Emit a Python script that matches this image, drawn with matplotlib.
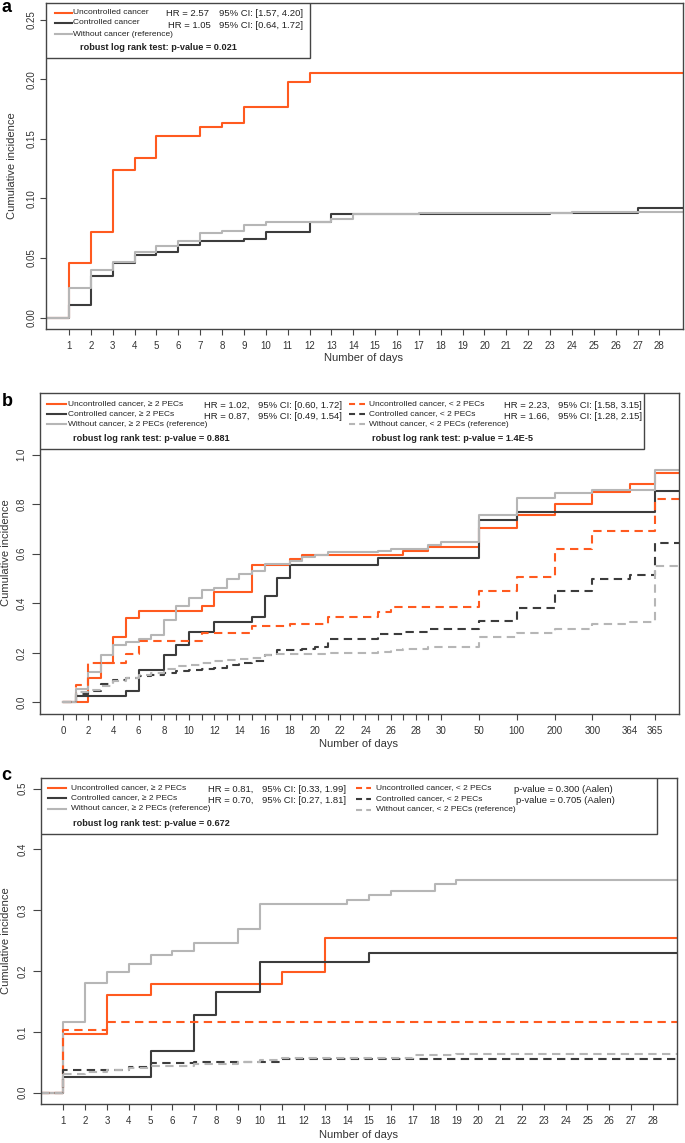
import numpy as np
import matplotlib
matplotlib.use('Agg')
import matplotlib.pyplot as plt
from matplotlib import font_manager
from matplotlib.lines import Line2D
from matplotlib.patches import Rectangle

# ---------------- data ----------------
# panel a : 28 days
a_days = list(range(1, 29))
a_unc_t = [0, 1, 2, 3, 4, 5, 7, 8, 9, 11, 12, 30]
a_unc_y = [0, 0.046, 0.072, 0.124, 0.134, 0.152, 0.160, 0.163, 0.177, 0.198, 0.205, 0.205]
a_con_t = [0, 1, 2, 3, 4, 5, 6, 7, 9, 10, 12, 13, 16, 23, 27, 30]
a_con_y = [0, 0.011, 0.035, 0.046, 0.053, 0.055, 0.061, 0.064, 0.066, 0.072, 0.080, 0.087,
           0.087, 0.088, 0.092, 0.092]
a_wo_t = [0, 1, 2, 3, 4, 5, 6, 7, 8, 9, 10, 13, 14, 17, 24, 30]
a_wo_y = [0, 0.025, 0.040, 0.047, 0.055, 0.060, 0.064, 0.071, 0.073, 0.078, 0.080, 0.083,
          0.087, 0.088, 0.089, 0.089]

# panel b : 1 year, broken day axis
b_tick_days = list(range(0, 31)) + [50, 100, 200, 300, 364, 365]
b_axis_days = [0, 30, 50, 100, 200, 300, 364, 365, 366]
b_axis_pos = [0, 30, 33, 36, 39, 42, 45, 47, 49]

b_unc2_t = [0, 2, 3, 4, 5, 6, 11, 12, 15, 18, 19, 27, 29, 50, 100, 200, 300, 364, 365, 366]
b_unc2_y = [0, 0.097, 0.157, 0.265, 0.339, 0.370, 0.390, 0.445, 0.553, 0.578, 0.595, 0.610,
            0.628, 0.702, 0.756, 0.800, 0.850, 0.880, 0.925, 0.925]
b_con2_t = [0, 1, 5, 6, 8, 9, 10, 12, 15, 16, 17, 18, 25, 50, 100, 365, 366]
b_con2_y = [0, 0.025, 0.047, 0.130, 0.190, 0.232, 0.285, 0.325, 0.343, 0.430, 0.503, 0.553,
            0.582, 0.735, 0.768, 0.852, 0.852]
b_wo2_t = [0, 1, 2, 3, 4, 5, 6, 7, 8, 9, 10, 11, 12, 13, 14, 15, 16, 18, 19, 20, 21, 25, 26,
           29, 30, 50, 100, 200, 300, 365, 366]
b_wo2_y = [0, 0.055, 0.122, 0.190, 0.233, 0.245, 0.257, 0.271, 0.332, 0.389, 0.420, 0.453,
           0.460, 0.500, 0.517, 0.531, 0.558, 0.570, 0.585, 0.595, 0.606, 0.611, 0.620, 0.636,
           0.648, 0.756, 0.826, 0.846, 0.857, 0.937, 0.937]
b_unc1_t = [0, 1, 2, 5, 6, 11, 15, 18, 21, 25, 26, 50, 100, 200, 300, 365, 366]
b_unc1_y = [0, 0.070, 0.157, 0.196, 0.248, 0.280, 0.309, 0.316, 0.344, 0.366, 0.386, 0.450,
            0.505, 0.619, 0.693, 0.821, 0.821]
b_con1_t = [0, 1, 2, 3, 4, 5, 6, 7, 8, 9, 10, 11, 12, 13, 14, 15, 16, 17, 19, 20, 21, 25, 27,
            29, 50, 100, 200, 300, 364, 365, 366]
b_con1_y = [0, 0.033, 0.045, 0.075, 0.090, 0.100, 0.105, 0.112, 0.118, 0.125, 0.130, 0.135,
            0.140, 0.150, 0.158, 0.165, 0.190, 0.210, 0.215, 0.225, 0.254, 0.276, 0.285, 0.298,
            0.329, 0.379, 0.450, 0.498, 0.514, 0.645, 0.645]
b_wo1_t = [0, 1, 2, 3, 4, 5, 6, 7, 8, 9, 10, 11, 12, 13, 14, 15, 16, 17, 21, 25, 26, 27, 29,
           50, 100, 200, 300, 364, 365, 366]
b_wo1_y = [0, 0.040, 0.050, 0.065, 0.085, 0.100, 0.110, 0.120, 0.135, 0.145, 0.150, 0.160,
           0.165, 0.170, 0.175, 0.180, 0.190, 0.195, 0.200, 0.205, 0.210, 0.215, 0.225, 0.262,
           0.282, 0.295, 0.318, 0.325, 0.551, 0.551]

# panel c : 28 days, split by PECs
c_days = list(range(1, 29))
c_unc2_t = [0, 1, 3, 5, 11, 13, 30]
c_unc2_y = [0, 0.096, 0.161, 0.178, 0.199, 0.254, 0.254]
c_con2_t = [0, 1, 5, 7, 8, 10, 15, 30]
c_con2_y = [0, 0.025, 0.069, 0.128, 0.166, 0.215, 0.229, 0.229]
c_wo2_t = [0, 1, 2, 3, 4, 5, 6, 7, 9, 10, 14, 15, 16, 18, 19, 30]
c_wo2_y = [0, 0.117, 0.180, 0.198, 0.212, 0.226, 0.233, 0.247, 0.270, 0.310, 0.317, 0.325,
           0.332, 0.344, 0.350, 0.350]
c_unc1_t = [0, 1, 3, 30]
c_unc1_y = [0, 0.103, 0.116, 0.116]
c_con1_t = [0, 1, 4, 5, 7, 11, 30]
c_con1_y = [0, 0.038, 0.043, 0.049, 0.050, 0.055, 0.055]
c_wo1_t = [0, 1, 2, 3, 4, 5, 7, 9, 10, 11, 17, 19, 30]
c_wo1_y = [0, 0.030, 0.034, 0.038, 0.041, 0.044, 0.048, 0.050, 0.054, 0.057, 0.062, 0.064, 0.064]

# ---------------- style ----------------
ORANGE = '#ff5a1f'
DARK = '#3c3c3c'
GREY = '#b6b6b6'
FRAME = '#454545'
TXT = '#222222'
LW = 1.5
DASH = (4, 2.6)
DASH_KEY = (2.9, 2.0)

W, H = 685, 1143
plt.rcParams['font.family'] = ['Liberation Sans', 'DejaVu Sans']
names = {f.name for f in font_manager.fontManager.ttflist}
if 'Liberation Sans Narrow' in names:
    LAB = dict(family=['Liberation Sans Narrow', 'DejaVu Sans'], fontsize=7.2)
else:
    LAB = dict(family=['Liberation Sans', 'DejaVu Sans'], fontsize=6.0)

fig = plt.figure(figsize=(W / 100, H / 100), dpi=100)


def fp(x, y):
    return x / W, 1 - y / H


def add_ax(l, t, r, b):
    return fig.add_axes([l / W, 1 - b / H, (r - l) / W, (b - t) / H])


def txt(x, y, s, **kw):
    kw.setdefault('color', TXT)
    kw.setdefault('va', 'center')
    fig.text(*fp(x, y), s, **kw)


def sample(x0, x1, y, color, dashed=False):
    ln = Line2D([x0 / W, x1 / W], [1 - y / H] * 2, color=color, lw=LW,
                transform=fig.transFigure)
    if dashed:
        ln.set_dashes(DASH_KEY)
    fig.add_artist(ln)


def legend_box(ax, l, t, r, b):
    x, y = fp(l, b)
    ax.add_patch(Rectangle((x, y), (r - l) / W, (b - t) / H, transform=fig.transFigure,
                           facecolor='white', edgecolor=FRAME, lw=1.0, zorder=5))


def frame(ax, ylim, yticks, ylabels, ypad, ylen):
    for s in ax.spines.values():
        s.set_color(FRAME)
        s.set_linewidth(1.0)
    ax.set_ylim(*ylim)
    ax.set_yticks(yticks, ylabels, rotation=90, va='center')
    ax.tick_params(axis='y', direction='out', length=ylen, width=0.8, color=FRAME,
                   labelsize=7, pad=ypad, labelcolor='#333333')
    ax.tick_params(axis='x', direction='out', length=4.6, width=0.8, color=FRAME,
                   labelsize=7, pad=4.3, labelcolor='#333333')


def curve(ax, t, y, color, dashed=False):
    ln, = ax.step(t, y, where='post', color=color, lw=LW)
    if dashed:
        ln.set_dashes(DASH)


# ---------------- panel a ----------------
ax = add_ax(46, 3, 683, 329)
curve(ax, a_unc_t, a_unc_y, ORANGE)
curve(ax, a_con_t, a_con_y, DARK)
curve(ax, a_wo_t, a_wo_y, GREY)
ax.set_xlim(-0.05, 29.08)
ax.set_xticks(a_days, [str(d) for d in a_days])
frame(ax, (-0.0095, 0.264), [0, 0.05, 0.10, 0.15, 0.20, 0.25],
      ['0.00', '0.05', '0.10', '0.15', '0.20', '0.25'], 2.5, 4.3)
legend_box(ax, 46, 3, 310, 58)
for yy, col, lab in [(12.5, ORANGE, 'Uncontrolled cancer'), (22.7, DARK, 'Controlled cancer'),
                     (34, GREY, 'Without cancer (reference)')]:
    sample(54.6, 71.5, yy, col)
    txt(73, yy, lab, **LAB)
txt(165.7, 14, 'HR = 2.57', fontsize=6.8)
txt(167.7, 25, 'HR = 1.05', fontsize=6.8)
txt(219, 14, '95% CI: [1.57, 4.20]', fontsize=6.8)
txt(219, 25, '95% CI: [0.64, 1.72]', fontsize=6.8)
txt(80, 48, 'robust log rank test: p-value = 0.021', fontsize=6.6, fontweight='bold')
txt(12, 166, 'Cumulative incidence', fontsize=8, rotation=90, ha='center', color='#333333')
txt(364, 358, 'Number of days', fontsize=8, ha='center', color='#333333')
txt(1.5, 12, 'a', fontsize=13, fontweight='bold', va='baseline', color='black')

# ---------------- panel b ----------------
def bpos(days):
    return np.interp(days, b_axis_days, b_axis_pos)


ax = add_ax(40, 393, 679, 714)
curve(ax, bpos(b_unc2_t), b_unc2_y, ORANGE)
curve(ax, bpos(b_con2_t), b_con2_y, DARK)
curve(ax, bpos(b_wo2_t), b_wo2_y, GREY)
curve(ax, bpos(b_unc1_t), b_unc1_y, ORANGE, True)
curve(ax, bpos(b_con1_t), b_con1_y, DARK, True)
curve(ax, bpos(b_wo1_t), b_wo1_y, GREY, True)
ax.set_xlim(-1.83, 48.88)
ax.set_xticks(bpos(b_tick_days),
              [str(d) if (d > 30 or d % 2 == 0) else '' for d in b_tick_days])
frame(ax, (-0.047, 1.249), [0, 0.2, 0.4, 0.6, 0.8, 1.0],
      ['0.0', '0.2', '0.4', '0.6', '0.8', '1.0'], 3.9, 5.6)
legend_box(ax, 40, 393, 644, 449)
for yy, col, lab in [(404, ORANGE, 'Uncontrolled cancer, \u2265 2 PECs'),
                     (414, DARK, 'Controlled cancer, \u2265 2 PECs'),
                     (424.5, GREY, 'Without cancer, \u2265 2 PECs (reference)')]:
    sample(47, 65.5, yy, col)
    txt(68, yy, lab, **LAB)
for yy, col, lab in [(404, ORANGE, 'Uncontrolled cancer, < 2 PECs'),
                     (414, DARK, 'Controlled cancer, < 2 PECs'),
                     (424.5, GREY, 'Without cancer, < 2 PECs (reference)')]:
    sample(349, 365, yy, col, True)
    txt(369, yy, lab, **LAB)
txt(204, 405.5, 'HR = 1.02,', fontsize=6.8)
txt(204, 416, 'HR = 0.87,', fontsize=6.8)
txt(258, 405.5, '95% CI: [0.60, 1.72]', fontsize=6.8)
txt(258, 416, '95% CI: [0.49, 1.54]', fontsize=6.8)
txt(503.5, 405.5, 'HR = 2.23,', fontsize=6.8)
txt(503.5, 416, 'HR = 1.66,', fontsize=6.8)
txt(558, 405.5, '95% CI: [1.58, 3.15]', fontsize=6.8)
txt(558, 416, '95% CI: [1.28, 2.15]', fontsize=6.8)
txt(73, 438.5, 'robust log rank test: p-value = 0.881', fontsize=6.6, fontweight='bold')
txt(372.5, 438.5, 'robust log rank test: p-value = 1.4E-5', fontsize=6.6, fontweight='bold')
txt(6.5, 553, 'Cumulative incidence', fontsize=8, rotation=90, ha='center', color='#333333')
txt(358, 744, 'Number of days', fontsize=8, ha='center', color='#333333')
txt(1.5, 406, 'b', fontsize=13, fontweight='bold', va='baseline', color='black')

# ---------------- panel c ----------------
ax = add_ax(41, 778, 677, 1104)
curve(ax, c_unc2_t, c_unc2_y, ORANGE)
curve(ax, c_con2_t, c_con2_y, DARK)
curve(ax, c_wo2_t, c_wo2_y, GREY)
curve(ax, c_unc1_t, c_unc1_y, ORANGE, True)
curve(ax, c_con1_t, c_con1_y, DARK, True)
curve(ax, c_wo1_t, c_wo1_y, GREY, True)
ax.set_xlim(-0.02, 29.1)
ax.set_xticks(c_days, [str(d) for d in c_days])
frame(ax, (-0.0186, 0.5176), [0, 0.1, 0.2, 0.3, 0.4, 0.5],
      ['0.0', '0.1', '0.2', '0.3', '0.4', '0.5'], 3.9, 5.6)
legend_box(ax, 41, 778, 657, 834)
for yy, col, lab in [(788, ORANGE, 'Uncontrolled cancer, \u2265 2 PECs'),
                     (798, DARK, 'Controlled cancer, \u2265 2 PECs'),
                     (809, GREY, 'Without cancer, \u2265 2 PECs (reference)')]:
    sample(48, 65.5, yy, col)
    txt(71, yy, lab, **LAB)
for yy, col, lab in [(788, ORANGE, 'Uncontrolled cancer, < 2 PECs'),
                     (798.5, DARK, 'Controlled cancer, < 2 PECs'),
                     (809.5, GREY, 'Without cancer, < 2 PECs (reference)')]:
    sample(356, 371, yy, col, True)
    txt(375.5, yy, lab, **LAB)
txt(208, 789.3, 'HR = 0.81,', fontsize=6.8)
txt(208, 800.3, 'HR = 0.70,', fontsize=6.8)
txt(262.5, 789.3, '95% CI: [0.33, 1.99]', fontsize=6.8)
txt(262.5, 800.3, '95% CI: [0.27, 1.81]', fontsize=6.8)
txt(514, 789.3, 'p-value = 0.300 (Aalen)', fontsize=6.8)
txt(516, 800.3, 'p-value = 0.705 (Aalen)', fontsize=6.8)
txt(73.4, 823, 'robust log rank test: p-value = 0.672', fontsize=6.6, fontweight='bold')
txt(6.5, 941, 'Cumulative incidence', fontsize=8, rotation=90, ha='center', color='#333333')
txt(358, 1135, 'Number of days', fontsize=8, ha='center', color='#333333')
txt(1.5, 780, 'c', fontsize=13, fontweight='bold', va='baseline', color='black')

fig.savefig('out.png', dpi=100)
